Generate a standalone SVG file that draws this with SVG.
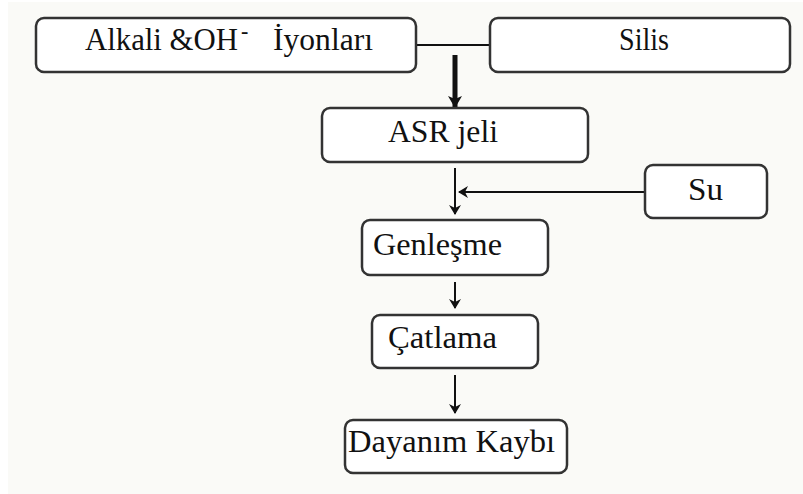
<svg xmlns="http://www.w3.org/2000/svg" width="803" height="494" viewBox="0 0 803 494">
<style>
.box{fill:#fff;stroke:#333;stroke-width:2.5}
.t{font-family:'Liberation Serif','Times New Roman',serif;font-size:31px;fill:#111}
.sup{font-family:'Liberation Serif','Times New Roman',serif;font-size:22px;font-weight:bold;fill:#111}
.ln{stroke:#111;stroke-width:2;fill:none}
</style>
<defs>
<marker id="ah" markerWidth="10" markerHeight="12" refX="9" refY="6" orient="auto" markerUnits="userSpaceOnUse"><path d="M0,0 L10,6 L0,12 L3,6 Z" fill="#111"/></marker>
<marker id="ahb" markerWidth="12" markerHeight="14" refX="11" refY="7" orient="auto" markerUnits="userSpaceOnUse"><path d="M0,0 L12,7 L0,14 L3,7 Z" fill="#111"/></marker>
</defs>
<rect x="0" y="0" width="803" height="494" fill="#fff"/>
<rect x="8" y="2" width="795" height="492" fill="#fafaf7"/>
<g id="connectors">
<line class="ln" x1="416" y1="45" x2="490" y2="45"/>
<line x1="455" y1="55" x2="455" y2="107" stroke="#111" stroke-width="5" marker-end="url(#ahb)"/>
<line class="ln" x1="455" y1="168" x2="455" y2="214" marker-end="url(#ah)"/>
<line class="ln" x1="645" y1="192" x2="459" y2="192" marker-end="url(#ah)"/>
<line class="ln" x1="455" y1="282" x2="455" y2="308" marker-end="url(#ah)"/>
<line class="ln" x1="455" y1="375" x2="455" y2="413" marker-end="url(#ah)"/>
</g>
<g id="n-alkali">
<rect class="box" x="36" y="18" width="380" height="54" rx="8"/>
<text class="t" x="85" y="50" textLength="153" lengthAdjust="spacingAndGlyphs">Alkali &amp;OH</text>
<text class="sup" x="241" y="38">-</text>
<text class="t" x="273" y="50" textLength="100" lengthAdjust="spacingAndGlyphs">İyonları</text>
</g>
<g id="n-silis">
<rect class="box" x="490" y="18" width="300" height="54" rx="8"/>
<text class="t" x="619" y="50" textLength="50" lengthAdjust="spacingAndGlyphs">Silis</text>
</g>
<g id="n-asr">
<rect class="box" x="322" y="108" width="266" height="54" rx="8"/>
<text class="t" x="388" y="142" textLength="110" lengthAdjust="spacingAndGlyphs">ASR jeli</text>
</g>
<g id="n-su">
<rect class="box" x="645" y="165" width="122" height="53" rx="8"/>
<text class="t" x="688" y="200" textLength="35" lengthAdjust="spacingAndGlyphs">Su</text>
</g>
<g id="n-genlesme">
<rect class="box" x="362" y="220" width="186" height="55" rx="8"/>
<text class="t" x="373" y="255" textLength="129" lengthAdjust="spacingAndGlyphs">Genleşme</text>
</g>
<g id="n-catlama">
<rect class="box" x="372" y="315" width="166" height="53" rx="8"/>
<text class="t" x="388" y="348" textLength="109" lengthAdjust="spacingAndGlyphs">Çatlama</text>
</g>
<g id="n-dayanim">
<rect class="box" x="345" y="420" width="222" height="53" rx="8"/>
<text class="t" x="348" y="452" textLength="207" lengthAdjust="spacingAndGlyphs">Dayanım Kaybı</text>
</g>
</svg>
